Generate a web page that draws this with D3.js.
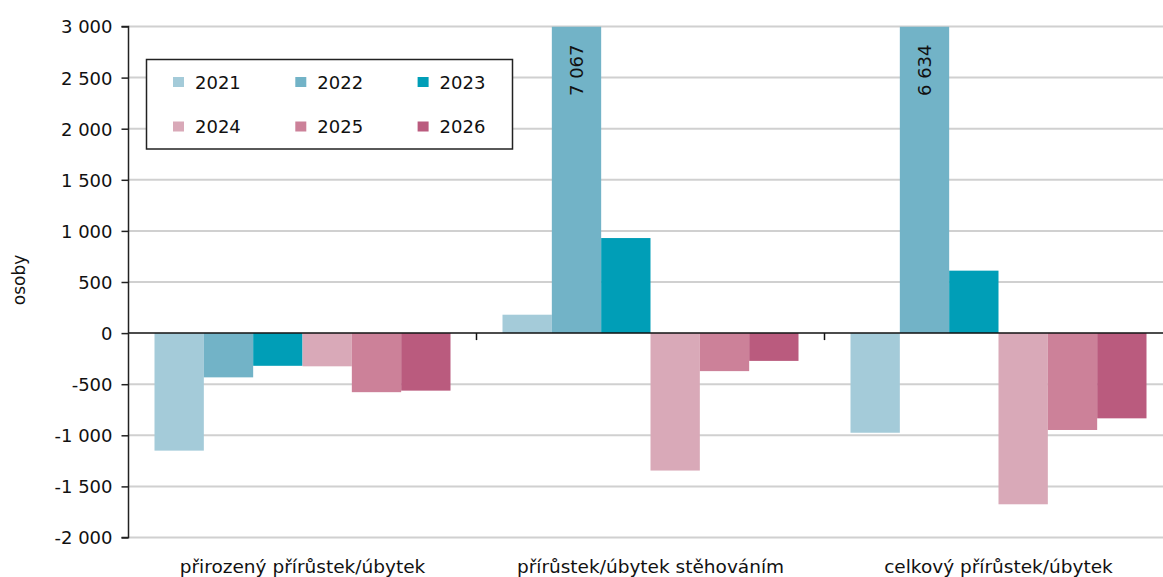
<!DOCTYPE html>
<html>
<head>
<meta charset="utf-8">
<script src="https://cdn.jsdelivr.net/npm/d3@7"></script>
<style>
  html, body { margin: 0; padding: 0; background: #fff; }
  svg { display: block; font-family: "DejaVu Sans", Verdana, sans-serif; }
</style>
</head>
<body>
<svg id="chart" width="1163" height="577"></svg>
<script>
// ---- data ----
const categories = ["přirozený přírůstek/úbytek", "přírůstek/úbytek stěhováním", "celkový přírůstek/úbytek"];
const years = ["2021", "2022", "2023", "2024", "2025", "2026"];
const v2021 = [-1150, 180, -975];
const v2022 = [-433, 7067, 6634];
const v2023 = [-320, 930, 611];
const v2024 = [-325, -1345, -1675];
const v2025 = [-578, -372, -948];
const v2026 = [-563, -272, -834];
const colors = ["#a4cbd9", "#72b3c7", "#009eb7", "#d9a9b8", "#cc8199", "#ba5b7e"];
const yTicks = [-2000, -1500, -1000, -500, 0, 500, 1000, 1500, 2000, 2500, 3000];
const yLabel = "osoby";

const seriesValues = [v2021, v2022, v2023, v2024, v2025, v2026];

// ---- layout ----
const W = 1163, H = 577;
const plot = { left: 128.5, right: 1172.5, top: 26.5, bottom: 537.5 };
const svg = d3.select("#chart");

const x0 = d3.scaleBand().domain(categories).range([plot.left, plot.right]).paddingInner(0).paddingOuter(0);
const x1 = d3.scaleBand().domain(years).range([26, x0.bandwidth() - 26]).padding(0);
const y = d3.scaleLinear().domain([-2000, 3000]).range([plot.bottom, plot.top]);

const fmt = v => d3.format(",")(v).replace(/,/g, "\u2009").replace("-", "-");
const fmtSp = v => (v < 0 ? "-" : "") + d3.format(",")(Math.abs(v)).replace(/,/g, " ");

// gridlines
svg.append("g").selectAll("line").data(yTicks.filter(t => t !== 0))
  .join("line")
  .attr("x1", plot.left).attr("x2", W)
  .attr("y1", d => y(d)).attr("y2", d => y(d))
  .attr("stroke", "#d0d0d0").attr("stroke-width", 2);

// clip for bars
svg.append("clipPath").attr("id", "plotclip")
  .append("rect").attr("x", plot.left).attr("y", plot.top)
  .attr("width", plot.right - plot.left).attr("height", plot.bottom - plot.top);

// bars
const barData = [];
categories.forEach((c, ci) => {
  years.forEach((yr, si) => {
    barData.push({ cat: c, year: yr, value: seriesValues[si][ci], color: colors[si] });
  });
});

const bars = svg.append("g").attr("clip-path", "url(#plotclip)");
bars.selectAll("rect").data(barData).join("rect")
  .attr("x", d => x0(d.cat) + x1(d.year))
  .attr("width", x1.bandwidth())
  .attr("y", d => y(Math.max(0, Math.min(d.value, 3000))))
  .attr("height", d => Math.abs(y(Math.min(d.value, 3000)) - y(0)))
  .attr("fill", d => d.color);

// labels for truncated bars
svg.append("g").selectAll("text").data(barData.filter(d => d.value > 3000))
  .join("text")
  .attr("transform", d => `translate(${x0(d.cat) + x1(d.year) + x1.bandwidth() / 2 + 6.5},${plot.top + 18}) rotate(-90)`)
  .attr("text-anchor", "end")
  .attr("font-size", 18)
  .attr("fill", "#111")
  .text(d => fmtSp(d.value));

// zero line
svg.append("line")
  .attr("x1", plot.left).attr("x2", W)
  .attr("y1", y(0)).attr("y2", y(0))
  .attr("stroke", "#111").attr("stroke-width", 1.5);

// category tick marks on zero line
svg.append("g").selectAll("line").data(categories.slice(1))
  .join("line")
  .attr("x1", d => x0(d)).attr("x2", d => x0(d))
  .attr("y1", y(0)).attr("y2", y(0) + 7)
  .attr("stroke", "#111").attr("stroke-width", 1.5);

// y axis
const yAxis = d3.axisLeft(y).tickValues(yTicks).tickSize(7).tickPadding(9).tickFormat(fmtSp);
const gy = svg.append("g").attr("transform", `translate(${plot.left},0)`).call(yAxis);
gy.select(".domain").attr("stroke", "#222").attr("stroke-width", 1.5).attr("d", `M-7,${plot.top}H0V${plot.bottom}H-7`);
gy.selectAll(".tick line").attr("stroke", "#222").attr("stroke-width", 1.5);
gy.selectAll(".tick text").attr("font-size", 18).attr("fill", "#111").attr("font-family", "DejaVu Sans, sans-serif").attr("dy", "0.36em");

// y axis label
svg.append("text")
  .attr("transform", `translate(25,280) rotate(-90)`)
  .attr("text-anchor", "middle")
  .attr("font-size", 17)
  .attr("fill", "#111")
  .text(yLabel);

// category labels
svg.append("g").selectAll("text").data(categories).join("text")
  .attr("x", d => x0(d) + x0.bandwidth() / 2)
  .attr("y", 573)
  .attr("text-anchor", "middle")
  .attr("font-size", 18.5)
  .attr("fill", "#111")
  .text(d => d);

// legend
const lg = svg.append("g");
lg.append("rect").attr("x", 146.5).attr("y", 59.5).attr("width", 366).attr("height", 89.5)
  .attr("fill", "#fff").attr("stroke", "#222").attr("stroke-width", 1.5);
const legendItems = lg.selectAll("g.item").data(years).join("g").attr("class", "item")
  .attr("transform", (d, i) => `translate(${173 + (i % 3) * 122.3},${i < 3 ? 82 : 126.5})`);
legendItems.append("rect").attr("x", 0).attr("y", -5).attr("width", 11).attr("height", 10)
  .attr("fill", (d, i) => colors[i]);
legendItems.append("text").attr("x", 22).attr("y", 6.5).attr("font-size", 18).attr("fill", "#111").text(d => d);
</script>
</body>
</html>
